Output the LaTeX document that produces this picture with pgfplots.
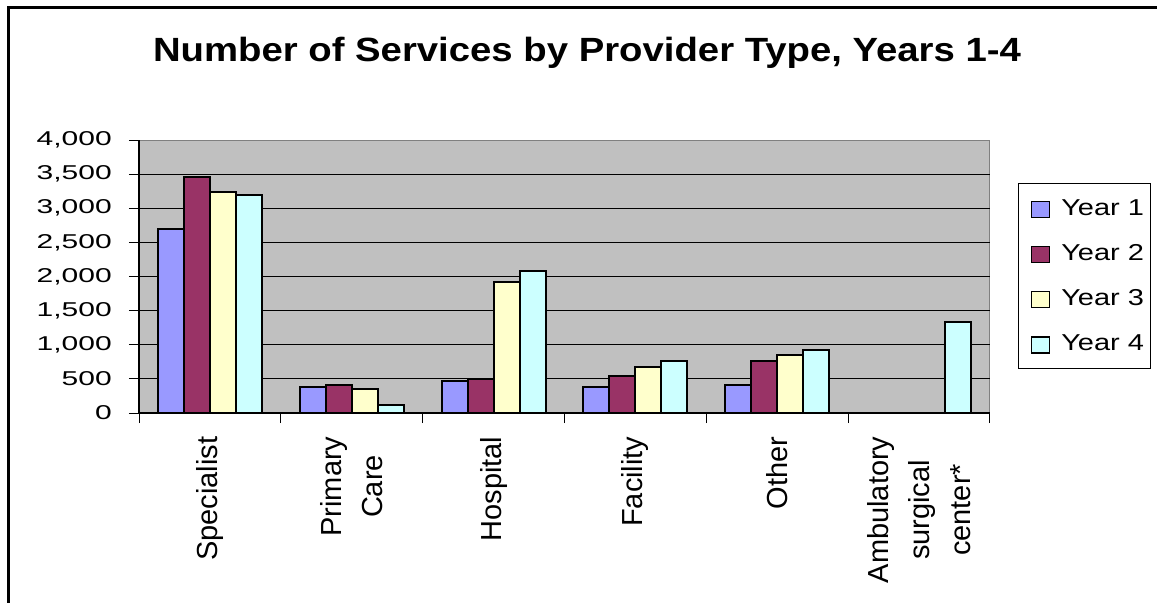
\documentclass[border=0pt]{standalone}
\usepackage{fontspec}
\setmainfont{Liberation Sans}
\newfontfamily\tickfont[FakeStretch=1.5]{Liberation Sans}
\newfontfamily\legfont[FakeStretch=1.26]{Liberation Sans}
\newfontfamily\titlefont[FakeStretch=1.14]{Liberation Sans}
\usepackage{pgfplots}
\pgfplotsset{compat=1.18}
\definecolor{yone}{HTML}{9999FF}
\definecolor{ytwo}{HTML}{993366}
\definecolor{ythree}{HTML}{FFFFCC}
\definecolor{yfour}{HTML}{CCFFFF}
\definecolor{plotgray}{HTML}{C0C0C0}
\pgfplotsset{sqlegend/.style={legend image code/.code={\path (0pt,0pt); \draw[##1, line width=1.2pt] (4.5pt,-1.7pt) rectangle (18pt,10.3pt);}}}
\begin{document}
\begin{tikzpicture}
\path[use as bounding box] (0,0) rectangle (867.75pt,-452.25pt);
\draw[line width=2.25pt] (6pt,-452.25pt) -- (6pt,-5.25pt) -- (867.75pt,-5.25pt);
\node[anchor=base, inner sep=0pt, font={\titlefont\bfseries\fontsize{25.2}{30}\selectfont}] at (440.25pt,-45.75pt) {Number of Services by Provider Type, Years 1-4};
\begin{axis}[
 at={(104.25pt,-309.75pt)}, anchor=south west,
 scale only axis, width=638.25pt, height=204.75pt,
 ybar=0pt, bar width=0.1833,
 xmin=-0.5, xmax=5.5, ymin=0, ymax=4000,
 axis lines*=left, axis line style={-, black, line width=0.9pt},
 axis background/.style={fill=plotgray, draw=gray, line width=0.75pt},
 xtick={0,...,5},
 xticklabels={Specialist, Primary\\Care, Hospital, Facility, Other, Ambulatory\\surgical\\center*},
 minor xtick={-0.5,0.5,...,5.5},
 ytick={0,500,...,4000},
 extra y ticks={500,1000,...,3500},
 extra y tick labels={},
 extra y tick style={grid=major, major tick length=0pt},
 major grid style={black, line width=0.75pt},
 tick align=outside, major tick length=7.5pt, minor tick length=7.5pt,
 major x tick style={draw=none},
 tick style={black, line width=0.75pt},
 scaled y ticks=false,
 /pgf/number format/assume math mode=true,
 yticklabel style={font={\tickfont\fontsize{15}{18}\selectfont}, inner sep=0pt, anchor=east},
 yticklabel shift=12.75pt,
 xticklabel style={rotate=90, anchor=east, align=center, inner sep=0pt, font={\fontsize{21.75}{30.75}\selectfont}},
 xticklabel shift=10pt,
 legend style={at={(1.0329,0.8425)}, anchor=north west, draw=black, line width=0.75pt, fill=white,
   inner xsep=4.5pt, inner ysep=11.25pt, row sep=19.15pt, column sep=8.25pt,
   font={\legfont\fontsize{17.25}{20}\selectfont},
   nodes={inner sep=0pt, text height=12.4pt, text depth=0pt, anchor=base west}},
 legend cell align=left,
]
\addplot[fill=yone, draw=black, line width=1.5pt, sqlegend] coordinates {(0,2690) (1,380) (2,474) (3,376) (4,405)};
\addplot[fill=ytwo, draw=black, line width=1.5pt, sqlegend] coordinates {(0,3460) (1,405) (2,504) (3,538) (4,758)};
\addplot[fill=ythree, draw=black, line width=1.5pt, sqlegend] coordinates {(0,3240) (1,352) (2,1924) (3,670) (4,856)};
\addplot[fill=yfour, draw=black, line width=1.5pt, sqlegend] coordinates {(0,3200) (1,122) (2,2080) (3,758) (4,920) (5,1336)};
\legend{Year 1, Year 2, Year 3, Year 4}
\end{axis}
\end{tikzpicture}
\end{document}
